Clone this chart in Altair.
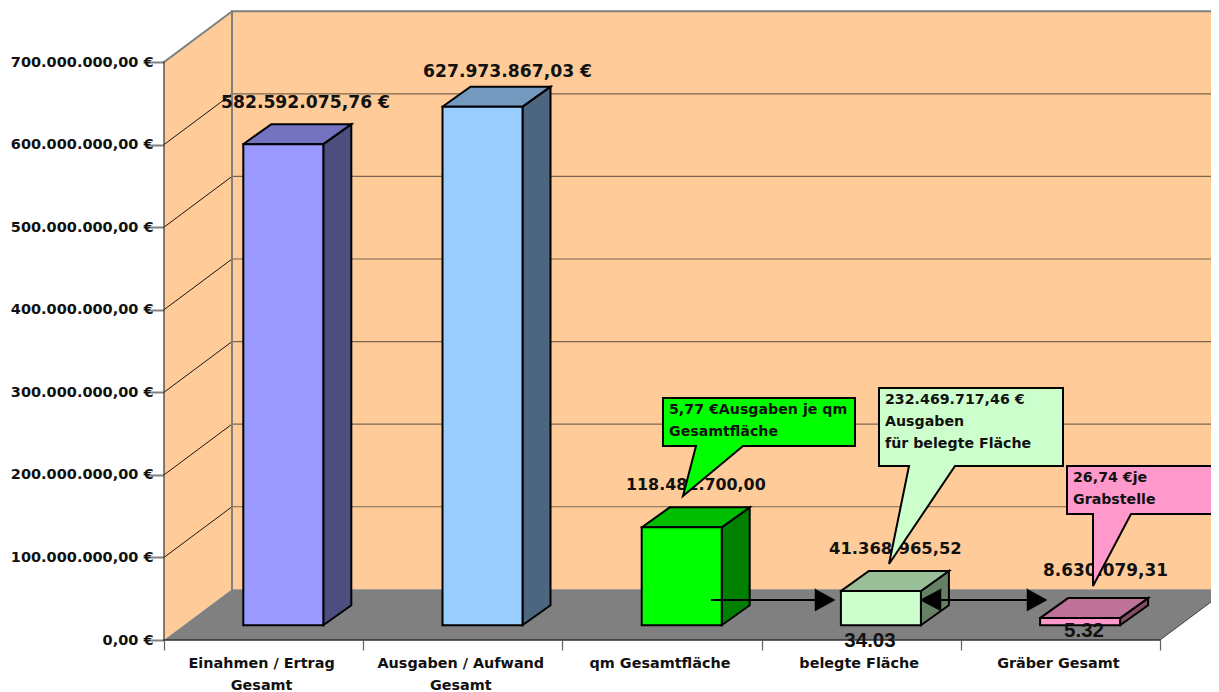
import altair as alt
import pandas as pd

# ---- data ----
categories = [["Einahmen / Ertrag", "Gesamt"], ["Ausgaben / Aufwand", "Gesamt"],
              ["qm Gesamtfläche"], ["belegte Fläche"], ["Gräber Gesamt"]]
values = [582592075.76, 627973867.03, 118481700.00, 41368965.52, 8630079.31]
value_labels = ["582.592.075,76 €", "627.973.867,03 €", "118.481.700,00", "41.368.965,52", "8.630.079,31"]
front_colors = ["#9999FF", "#99CCFF", "#00FF00", "#CCFFCC", "#FF99CC"]
top_colors = ["#7373BF", "#7399BF", "#00BF00", "#99BF99", "#BF7399"]
side_colors = ["#4D4D80", "#4D6680", "#008000", "#668066", "#804D66"]
tick_values = [0, 100e6, 200e6, 300e6, 400e6, 500e6, 600e6, 700e6]
tick_labels = ["0,00 €", "100.000.000,00 €", "200.000.000,00 €", "300.000.000,00 €",
               "400.000.000,00 €", "500.000.000,00 €", "600.000.000,00 €", "700.000.000,00 €"]

# ---- layout ----
X0, Y0 = 164, 640          # page position of the chart origin
PX_CAT = 199.2             # pixels per category
PX_VAL = 0.8257e-6         # pixels per euro
W, H = 1047, 632
X_MAX = W / PX_CAT
Y_MAX = H / PX_VAL


def X(px):
    return (px - X0) / PX_CAT


def Y(py):
    return (Y0 - py) / PX_VAL


x_scale = alt.Scale(domain=[0, X_MAX], nice=False, zero=False)
y_scale = alt.Scale(domain=[0, Y_MAX], nice=False, zero=False)
FONT = "DejaVu Sans"

x_axis = alt.Axis(values=[0, 1, 2, 3, 4, 5], labels=False, domain=False, grid=False, title=None,
                  tickSize=10, tickColor="#606060", tickWidth=1.2)
y_axis = alt.Axis(values=tick_values, domain=False, grid=False, title=None,
                  tickSize=17, tickColor="#808080", tickWidth=2,
                  labelFont=FONT, labelFontWeight="bold", labelFontSize=14.5,
                  labelColor="#111111", labelPadding=-6,
                  labelExpr=f"{tick_labels}[round(datum.value/100000000)]")


def enc(chart, **kw):
    return chart.encode(
        x=alt.X("x:Q", scale=x_scale, axis=x_axis),
        y=alt.Y("y:Q", scale=y_scale, axis=y_axis), **kw)


def poly(points, fill=None, stroke=None, width=1.0, clip=False):
    df = pd.DataFrame([{"x": p[0], "y": p[1], "i": n} for n, p in enumerate(points)])
    props = dict(strokeJoin="miter", strokeCap="square", clip=clip, strokeWidth=width)
    props["fill"] = fill if fill else "transparent"
    props["stroke"] = stroke if stroke else "transparent"
    return enc(alt.Chart(df).mark_line(**props), order=alt.Order("i:Q"))


def pxpoly(points, **kw):
    return poly([(X(a), Y(b)) for a, b in points], **kw)


def text(rows, size, weight="bold", align="left", color="#111111", font=FONT):
    df = pd.DataFrame(rows, columns=["x", "y", "t"])
    return enc(alt.Chart(df).mark_text(font=font, fontSize=size, fontWeight=weight,
                                       align=align, baseline="middle", color=color),
               text="t:N")


# depth of walls and of bars
wall_dx, wall_dy = X(232), Y(589.3)
bar_dx, bar_dy = 28 / PX_CAT, 20 / PX_VAL
bar_base = Y(625.2)
bar_off, bar_w = 79.3 / PX_CAT, 80 / PX_CAT

layers = []

# walls and floor
layers.append(poly([(0, 0), (wall_dx, wall_dy), (wall_dx, 700e6 + wall_dy), (0, 700e6), (0, 0)], fill="#FFCC99"))
layers.append(poly([(wall_dx, wall_dy), (X_MAX, wall_dy), (X_MAX, 700e6 + wall_dy), (wall_dx, 700e6 + wall_dy), (wall_dx, wall_dy)], fill="#FFCC99"))
layers.append(poly([(0, 0), (5, 0), (5 + wall_dx, wall_dy), (wall_dx, wall_dy), (0, 0)], fill="#808080", clip=True))

# grid lines
for v in tick_values[1:-1]:
    layers.append(poly([(0, v), (wall_dx, v + wall_dy)], stroke="#000000", width=0.9))
    layers.append(poly([(wall_dx, v + wall_dy), (X_MAX, v + wall_dy)], stroke="#7A6650", width=1.2))

# wall outlines
layers.append(poly([(wall_dx, wall_dy), (wall_dx, 700e6 + wall_dy), (X_MAX, 700e6 + wall_dy)], stroke="#808080", width=2))
layers.append(poly([(0, 700e6), (wall_dx, 700e6 + wall_dy)], stroke="#808080", width=2))
layers.append(poly([(0, 0), (0, 700e6)], stroke="#404040", width=1.3))
layers.append(poly([(0, 0), (5, 0)], stroke="#303030", width=1.3))
layers.append(poly([(5, 0), (5 + wall_dx, wall_dy)], stroke="#404040", width=1, clip=True))

# bars
for i, v in enumerate(values):
    x0, x1 = i + bar_off, i + bar_off + bar_w
    b, t = bar_base, bar_base + v
    layers.append(poly([(x1, b), (x1 + bar_dx, b + bar_dy), (x1 + bar_dx, t + bar_dy), (x1, t), (x1, b)],
                       fill=side_colors[i], stroke="#000000", width=2))
    layers.append(poly([(x0, t), (x1, t), (x1 + bar_dx, t + bar_dy), (x0 + bar_dx, t + bar_dy), (x0, t)],
                       fill=top_colors[i], stroke="#000000", width=2))
    layers.append(poly([(x0, b), (x1, b), (x1, t), (x0, t), (x0, b)],
                       fill=front_colors[i], stroke="#000000", width=2))

# category labels
cat_rows = []
for i, lines in enumerate(categories):
    for n, s in enumerate(lines):
        cat_rows.append((i + 0.49, Y(664 + 21.5 * n), s))
layers.append(text(cat_rows, 14.4, align="center"))

# value labels
label_px = [(221, 103), (423, 72), (626, 485), (829, 549), (1043, 571)]
label_size = [17.2, 17.2, 15.9, 16.4, 16.9]
for (a, b), s, size in zip(label_px, value_labels, label_size):
    layers.append(text([(X(a), Y(b), s)], size))
layers.append(text([(X(870), Y(641), "34.03"), (X(1084), Y(630.5), "5.32")], 20.5,
                   align="center", font="Liberation Sans"))

# callouts
layers.append(pxpoly([(663, 398), (855, 398), (855, 446), (743, 446), (683, 496), (696, 446), (663, 446), (663, 398)],
                     fill="#00FF00", stroke="#000000", width=2))
layers.append(pxpoly([(879, 388), (1063, 388), (1063, 466), (955, 466), (889, 564), (909, 466), (879, 466), (879, 388)],
                     fill="#CCFFCC", stroke="#000000", width=2))
layers.append(pxpoly([(1067, 466), (1240, 466), (1240, 514), (1131, 514), (1093, 586), (1093, 514), (1067, 514), (1067, 466)],
                     fill="#FF99CC", stroke="#000000", width=2, clip=True))
note_rows = [
    (X(669), Y(410), "5,77 €Ausgaben je qm"), (X(669), Y(432), "Gesamtfläche"),
    (X(885), Y(400), "232.469.717,46 €"), (X(885), Y(422), "Ausgaben"), (X(885), Y(444), "für belegte Fläche"),
    (X(1073), Y(478), "26,74 €je"), (X(1073), Y(500), "Grabstelle"),
]
layers.append(text(note_rows, 14.2))

# arrows
layers.append(pxpoly([(712, 600), (815, 600)], stroke="#000000", width=1.8))
layers.append(pxpoly([(815, 589), (835, 600), (815, 611), (815, 589)], fill="#000000", stroke="#000000", width=0.5))
layers.append(pxpoly([(941, 600), (1027, 600)], stroke="#000000", width=1.8))
layers.append(pxpoly([(941, 589), (920, 600), (941, 611), (941, 589)], fill="#000000", stroke="#000000", width=0.5))
layers.append(pxpoly([(1027, 589), (1047, 600), (1027, 611), (1027, 589)], fill="#000000", stroke="#000000", width=0.5))

chart = alt.layer(*layers).properties(
    width=W, height=H,
    padding={"left": 156, "top": 0, "right": 0, "bottom": 52},
    autosize=alt.AutoSizeParams(type="none"),
    background="#FFFFFF",
).configure_view(stroke=None)

chart.save("out.html", embed_options={"renderer": "svg", "actions": False})
